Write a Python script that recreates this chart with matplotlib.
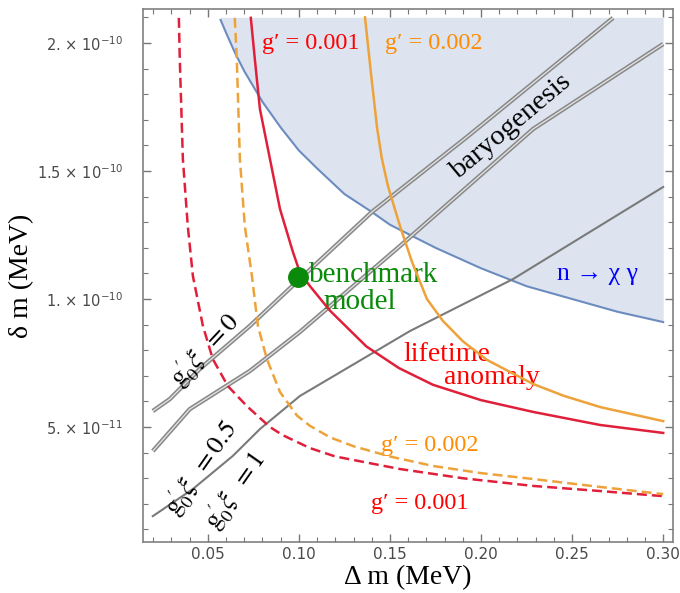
import numpy as np
import matplotlib
matplotlib.use("Agg")
import matplotlib.pyplot as plt

plt.rcParams['mathtext.fontset'] = 'stix'

# curves (x in MeV, y in units of 1e-10 MeV)
blue_x = [0.057, 0.06, 0.065, 0.07, 0.075, 0.08, 0.09, 0.10, 0.11, 0.125, 0.14, 0.15,
          0.175, 0.20, 0.225, 0.25, 0.275, 0.30]
blue_y = [2.09, 2.04, 1.96, 1.89, 1.83, 1.77, 1.67, 1.58, 1.51, 1.41, 1.34, 1.29,
          1.20, 1.12, 1.05, 1.00, 0.95, 0.91]

red_x = [0.0736, 0.0758, 0.0786, 0.0841, 0.0896, 0.0967, 0.1005, 0.106, 0.117, 0.137,
         0.155, 0.1736, 0.20, 0.2286, 0.2654, 0.30]
red_y = [2.098, 1.9375, 1.742, 1.547, 1.352, 1.184, 1.105, 1.051, 0.955, 0.815,
         0.73, 0.665, 0.605, 0.559, 0.508, 0.477]

orange_x = [0.1363, 0.1396, 0.1429, 0.1455, 0.1489, 0.1555, 0.1621, 0.1703, 0.179, 0.19,
            0.2033, 0.2286, 0.2454, 0.2654, 0.30]
orange_y = [2.10, 1.879, 1.67, 1.55, 1.441, 1.285, 1.145, 1.0, 0.915, 0.835,
            0.762, 0.668, 0.622, 0.578, 0.523]

red_d_x = [0.0341, 0.0346, 0.0363, 0.0390, 0.0418, 0.0473, 0.0527, 0.0610, 0.0714, 0.0841,
           0.0912, 0.106, 0.12, 0.1555, 0.19, 0.2286, 0.2654, 0.30]
red_d_y = [2.098, 1.9375, 1.547, 1.285, 1.090, 0.895, 0.766, 0.660, 0.582, 0.50,
           0.468, 0.418, 0.385, 0.336, 0.30, 0.270, 0.250, 0.230]

orange_d_x = [0.0648, 0.0659, 0.0676, 0.0703, 0.0742, 0.0775, 0.0824, 0.0896, 0.0989, 0.106,
              0.117, 0.13, 0.15, 0.1736, 0.20, 0.2286, 0.2654, 0.30]
orange_d_y = [2.098, 1.9375, 1.547, 1.285, 1.090, 0.895, 0.766, 0.637, 0.545, 0.505,
              0.46, 0.425, 0.385, 0.348, 0.32, 0.297, 0.266, 0.238]

xi0_x = [0.0198, 0.0291, 0.0456, 0.0731, 0.1005, 0.1401, 0.1923, 0.2725]
xi0_y = [0.5625, 0.609, 0.727, 0.895, 1.078, 1.34, 1.633, 2.098]

xi05_x = [0.0198, 0.0401, 0.0731, 0.1005, 0.1555, 0.2286, 0.30]
xi05_y = [0.406, 0.570, 0.719, 0.871, 1.207, 1.664, 1.996]

xi1_x = [0.0198, 0.0418, 0.0637, 0.0786, 0.1005, 0.161, 0.2176, 0.30]
xi1_y = [0.152, 0.258, 0.387, 0.492, 0.621, 0.875, 1.078, 1.4375]

bench_x, bench_y = 0.0995, 1.086

y_top = 2.10
sc = 1e-10

fig = plt.figure(figsize=(6.8, 5.93), dpi=100)
ax = fig.add_axes([0.210, 0.086, 0.780, 0.899])

ax.fill_between(blue_x, np.array(blue_y) * sc, y_top * sc, color='#dde4f0', lw=0, zorder=1)
ax.plot(blue_x, np.array(blue_y) * sc, color='#6c8cbf', lw=1.5, zorder=2)

gray = '#8a8a8a'
for xs, ys in [(xi0_x, xi0_y), (xi05_x, xi05_y)]:
    ax.plot(xs, np.array(ys) * sc, color=gray, lw=3.2, zorder=3, solid_capstyle='butt')
    ax.plot(xs, np.array(ys) * sc, color='#e6e6e6', lw=0.9, zorder=3, solid_capstyle='butt')
ax.plot(xi1_x, np.array(xi1_y) * sc, color='#7a7a7a', lw=1.5, zorder=3)

red = '#e0203a'
orange = '#eea23a'
ax.plot(red_x, np.array(red_y) * sc, color=red, lw=1.8, zorder=4)
ax.plot(orange_x, np.array(orange_y) * sc, color=orange, lw=1.8, zorder=4)
ax.plot(red_d_x, np.array(red_d_y) * sc, color=red, lw=1.8, ls=(0, (4, 2)), zorder=4)
ax.plot(orange_d_x, np.array(orange_d_y) * sc, color=orange, lw=1.8, ls=(0, (4, 2)), zorder=4)

ax.plot([bench_x], [bench_y * sc], 'o', color='#0a8a0a', ms=14, zorder=5)

ax.set_xlim(0.0143, 0.3055)
ax.set_ylim(0.051e-10, 2.133e-10)

ax.set_xticks([0.05, 0.10, 0.15, 0.20, 0.25, 0.30])
ax.set_xticklabels(['0.05', '0.10', '0.15', '0.20', '0.25', '0.30'])
ax.set_xticks(np.arange(0.02, 0.301, 0.01), minor=True)
ax.set_yticks([0.5e-10, 1e-10, 1.5e-10, 2e-10])
ax.set_yticklabels([r'5. × 10$^{-11}$', r'1. × 10$^{-10}$',
                    r'1.5 × 10$^{-10}$', r'2. × 10$^{-10}$'])
ax.set_yticks(np.arange(0.1e-10, 2.11e-10, 0.1e-10), minor=True)

for lab in ax.get_xticklabels() + ax.get_yticklabels():
    lab.set_family('DejaVu Sans')
    lab.set_math_fontfamily('dejavusans')
ax.tick_params(which='both', direction='in', top=True, right=True, colors='#777777',
               labelcolor='#4a4a4a')
ax.tick_params(which='major', length=6, width=1, labelsize=11)
ax.tick_params(axis='y', which='major', labelsize=10.5, pad=14)
ax.tick_params(which='minor', length=3.5, width=0.8)
for s in ax.spines.values():
    s.set_color('#808080')
    s.set_linewidth(1.2)

serif = ['Liberation Serif', 'DejaVu Serif']
ax.set_xlabel('Δ m (MeV)', family=serif, fontsize=20, labelpad=2)
ax.set_ylabel('δ m (MeV)', family=serif, fontsize=20, labelpad=2)

ax.text(0.0797, 1.996e-10, 'g′ = 0.001', color='red', family=serif, fontsize=17.5, ha='left', va='center')
ax.text(0.1473, 1.996e-10, 'g′ = 0.002', color='#ff8c00', family=serif, fontsize=17.5, ha='left', va='center')
ax.text(0.2165, 1.672e-10, 'baryogenesis', color='black', family=serif, fontsize=20.5,
        rotation=40, ha='center', va='center')
ax.text(0.1055, 1.092e-10, 'benchmark', color='#0a8a0a', family=serif, fontsize=21, ha='left', va='center')
ax.text(0.1335, 0.99e-10, 'model', color='#0a8a0a', family=serif, fontsize=21, ha='center', va='center')
ax.text(0.2637, 1.098e-10, 'n → χ γ', color='blue', family=serif, fontsize=18.5, ha='center', va='center')
ax.text(0.181, 0.785e-10, 'lifetime', color='red', family=serif, fontsize=20, ha='center', va='center')
ax.text(0.206, 0.695e-10, 'anomaly', color='red', family=serif, fontsize=20, ha='center', va='center')
ax.text(0.172, 0.426e-10, 'g′ = 0.002', color='#ff8c00', family=serif, fontsize=17.5, ha='center', va='center')
ax.text(0.1665, 0.203e-10, 'g′ = 0.001', color='red', family=serif, fontsize=17.5, ha='center', va='center')

ax.text(0.0485, 0.80e-10, r"$\mathrm{g}_0^{\prime}\xi\ \ = 0$", color='black', fontsize=19,
        rotation=47, ha='center', va='center')
ax.text(0.0465, 0.34e-10, r"$\mathrm{g}_0^{\prime}\xi\ \ = 0.5$", color='black', fontsize=19,
        rotation=55, ha='center', va='center')
ax.text(0.0650, 0.25e-10, r"$\mathrm{g}_0^{\prime}\xi\ \ = 1$", color='black', fontsize=19,
        rotation=55, ha='center', va='center')

fig.savefig('out.png', dpi=100)
